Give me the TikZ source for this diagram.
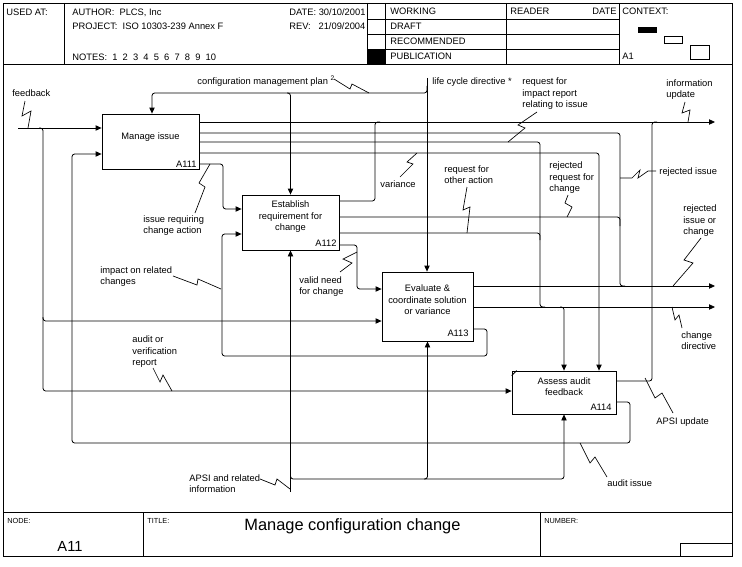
\documentclass[tikz,border=0pt]{standalone}
\usepackage{fontspec}
\setmainfont{Liberation Sans}
\usetikzlibrary{arrows.meta}

\begin{document}
\begin{tikzpicture}[x=0.75pt,y=-0.75pt,line width=0.6pt,
	actbox/.style={draw,rectangle,inner sep=0pt},
	pipe/.style={rounded corners=2pt},
	feed/.style={pipe,-{Triangle[length=4.5pt,width=4pt]}},
	zig/.style={line width=0.5pt},
	txt/.style={font=\fontsize{7}{8.5}\selectfont,inner sep=0pt,anchor=base west,align=left},
	boxtxt/.style={txt,anchor=base,align=center},
	boxnum/.style={txt,anchor=base east},
	smalltxt/.style={font=\fontsize{5.5}{6}\selectfont,inner sep=0pt,anchor=base west}]
	\useasboundingbox (0,0) rectangle (742,567);

	\draw (3,3) rectangle (732,556);
	\draw (3,64) -- (732,64);
	\draw (3,512) -- (732,512);
	\draw (64,3) -- (64,64);
	\draw (367,3) -- (367,64);
	\draw (385,3) -- (385,64);
	\draw (506,3) -- (506,64);
	\draw (619,3) -- (619,64);
	\foreach \y in {19,34,49} \draw (367,\y) -- (619,\y);
	\fill (367,49) rectangle (385,64);
	\fill (638,27) rectangle (657,33);
	\draw (664,36) rectangle (682,43);
	\draw (690,45) rectangle (709,59);
	\draw (143,512) -- (143,556);
	\draw (540,512) -- (540,556);
	\draw (680,556) |- (732,543);

	\node[txt] (usedat) at (6,16) {USED AT:};
	\node[txt] (author) at (72,16) {AUTHOR:\ \ PLCS, Inc};
	\node[txt] (project) at (72,30) {PROJECT:\ \ ISO 10303-239 Annex F};
	\node[txt] (notes) at (72,61) {NOTES:\ \ 1\ \ 2\ \ 3\ \ 4\ \ 5\ \ 6\ \ 7\ \ 8\ \ 9\ \ 10};
	\node[txt] (date) at (289,16) {DATE: 30/10/2001};
	\node[txt] (rev) at (289,30) {REV:\ \ \ 21/09/2004};
	\node[txt] (working) at (390,15) {WORKING};
	\node[txt] (draft) at (390,30) {DRAFT};
	\node[txt] (recommended) at (390,45) {RECOMMENDED};
	\node[txt] (publication) at (390,60) {PUBLICATION};
	\node[txt] (reader) at (510,15) {READER};
	\node[txt,anchor=base east] (rdate) at (617,15) {DATE};
	\node[txt] (context) at (622,15) {CONTEXT:};
	\node[txt] (ctxnode) at (622,60) {A1};

	\node[smalltxt] (nodelbl) at (7,523) {NODE:};
	\node[font=\fontsize{11}{12}\selectfont,inner sep=0pt,anchor=base] (nodenum) at (70,551) {A11};
	\node[smalltxt] (titlelbl) at (147,523) {TITLE:};
	\node[font=\fontsize{12.3}{14}\selectfont,inner sep=0pt,anchor=base west] (title) at (244,530) {Manage configuration change};
	\node[smalltxt] (numlbl) at (544,523) {NUMBER:};

	\node[actbox,minimum width=72.75pt,minimum height=41.25pt] (a111) at (150.5,141.5) {};
	\node[actbox,minimum width=72.75pt,minimum height=41.25pt] (a112) at (290.5,222.5) {};
	\node[actbox,minimum width=68.25pt,minimum height=51.75pt] (a113) at (427.5,306.5) {};
	\node[actbox,minimum width=78pt,minimum height=32.25pt] (a114) at (564,392.5) {};
	\draw ([yshift=-3.75pt]a114.north west) -- ([xshift=3.75pt]a114.north west);

	\node[boxtxt] (t111) at (150.5,139.5) {Manage issue};
	\node[boxnum] (n111) at (197,167.5) {A111};
	\node[boxtxt] (t112) at (290.5,230.5) {Establish\\requirement for\\change};
	\node[boxnum] (n112) at (337,246.5) {A112};
	\node[boxtxt] (t113) at (427.5,314.5) {Evaluate \&\\coordinate solution\\or variance};
	\node[boxnum] (n113) at (469,336.5) {A113};
	\node[boxtxt] (t114) at (564,395.5) {Assess audit\\feedback};
	\node[boxnum] (n114) at (612,410.5) {A114};

	\node[txt] (lfeedback) at (12,96.5) {feedback};
	\node[txt] (lcmp) at (197,84.5) {configuration management plan \textsuperscript{2}};
	\node[txt] (llcd) at (432,84.5) {life cycle directive *};
	\node[txt] (lreqimp) at (522,107.5) {request for\\impact report\\relating to issue};
	\node[txt] (linfo) at (666,97.5) {information\\update};
	\node[txt] (lissue) at (143,233.5) {issue requiring\\change action};
	\node[txt] (lvar) at (380,187.5) {variance};
	\node[txt] (lother) at (444,183.5) {request for\\other action};
	\node[txt] (lrejreq) at (549,191.5) {rejected\\request for\\change};
	\node[txt] (lrejiss) at (659,174.5) {rejected issue};
	\node[txt] (lrejic) at (683,234.5) {rejected\\issue or\\change};
	\node[txt] (limpact) at (100,284.5) {impact on related\\changes};
	\node[txt] (lvalid) at (299,294.5) {valid need\\for change};
	\node[txt] (lchg) at (681,349.5) {change\\directive};
	\node[txt] (laudit) at (132,365.5) {audit or\\verification\\report};
	\node[txt] (lapsiup) at (656,424.5) {APSI update};
	\node[txt] (lauditiss) at (607,486.5) {audit issue};
	\node[txt] (lapsi) at (189,492.5) {APSI and related\\information};

	\coordinate (fbin) at (18,128);
	\coordinate (lcd) at (427,78);
	\coordinate (apsi) at (290.5,492);
	\coordinate (infoup) at (715,122);
	\coordinate (rejic) at (715,286);
	\coordinate (chgdir) at (715,307);

	\draw[feed] (fbin) -- (a111.west |- fbin);
	\draw[feed] (39,128) -| (43,391) -- (a114.west |- 0,391);
	\draw[feed] (43,317) |- (a113.west |- 0,321);
	\draw[feed] (a114.east |- 0,402) -| (630,443) -| (72,154) -- (a111.west |- 0,154);

	\draw[feed] (a111.east |- infoup) -- (infoup);
	\draw[pipe] (a111.east |- 0,133) -| (620,286) -- (625,286);
	\draw[pipe] (a111.east |- 0,142) -| (540,307) -- (545,307);
	\draw[feed] (a111.east |- 0,153) -| (a114.north -| 599,0);
	\draw[feed] (a111.east |- 0,164) -| (223,209) -- (a112.west |- 0,209);

	\draw[feed] (lcd) -- (lcd |- a113.north);
	\draw[feed] (427,86) |- (152,93) -- (a111.north -| 152,0);
	\draw[feed] (287,93) -| (a112.north);

	\draw[pipe] (a112.east |- 0,201) -| (375,122) -- (380,122);
	\draw[pipe] (a112.east |- 0,217) -| (620,226);
	\draw[pipe] (a112.east |- 0,233) -| (540,240);
	\draw[feed] (a112.east |- 0,245) -| (357,289) -- (a113.west |- 0,289);

	\draw[feed] (a113.east |- rejic) -- (rejic);
	\draw[feed] (a113.east |- chgdir) -- (chgdir);
	\draw[feed] (560,307) -| (a114.north);
	\draw[feed] (a113.east |- 0,329) -| (487,356) -| (222,234) -- (a112.west |- 0,234);

	\draw[pipe] (a114.east |- 0,381) -| (652,122) -- (657,122);

	\draw[feed] (apsi) -- (a112.south);
	\draw[feed] (290.5,475) |- (564,479) -- (a114.south);
	\draw[feed] (424,479) -| (a113.south);

	\draw[zig] (25,101) -- (22,116) -- (31,111) -- (28,128);
	\draw[zig] (334,79) -- (350,89) -- (352,84) -- (369,93);
	\draw[zig] (537,112) -- (518,125) -- (525,128) -- (508,142);
	\draw[zig] (685,102) -- (682,113) -- (690,110) -- (688,122);
	\draw[zig] (210,164) -- (199,183) -- (205,187) -- (195,213);
	\draw[zig] (417,153) -- (407,162) -- (413,164) -- (400,177);
	\draw[zig] (467,187) -- (463,210) -- (470,207) -- (467,233);
	\draw[zig] (568,195) -- (565,203) -- (572,207) -- (567,217);
	\draw[zig] (620,178) -- (632,178) -- (640,170) -- (638,178) -- (648,171) -- (656,171);
	\draw[zig] (701,238) -- (684,260) -- (693,263) -- (673,286);
	\draw[zig] (173,276) -- (197,285) -- (198,279) -- (221,289);
	\draw[zig] (357,252) -- (343,259) -- (352,263) -- (340,272);
	\draw[zig] (672,307) -- (675,320) -- (679,315) -- (682,328);
	\draw[zig] (153,368) -- (160,382) -- (163,375) -- (172,391);
	\draw[zig] (645,378) -- (655,398) -- (662,393) -- (673,413);
	\draw[zig] (580,443) -- (590,463) -- (595,457) -- (607,477);
	\draw[zig] (260,479) -- (275,485) -- (277,479) -- (290,489);
\end{tikzpicture}
\end{document}
